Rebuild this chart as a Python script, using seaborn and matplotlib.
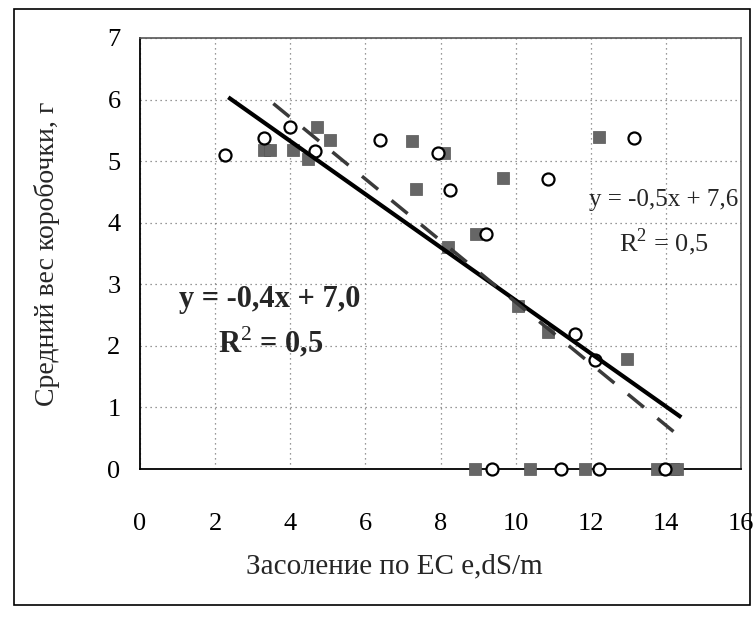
import matplotlib
matplotlib.use("Agg")
import matplotlib.pyplot as plt
import seaborn as sns
import pandas as pd
import numpy as np
from matplotlib.patches import Rectangle

# ---- data ----
circle_x = [2.26, 3.30, 3.99, 4.65, 6.40, 7.93, 8.24, 9.22, 10.86, 11.59, 12.10, 13.16,
            9.36, 11.22, 12.23, 13.99]
circle_y = [5.10, 5.37, 5.56, 5.17, 5.34, 5.14, 4.53, 3.81, 4.71, 2.20, 1.77, 5.38,
            0.0, 0.0, 0.0, 0.0]

square_x = [3.30, 3.45, 4.08, 4.48, 4.72, 5.07, 7.25, 8.09, 7.34, 8.20, 8.95, 9.66,
            10.05, 10.86, 12.23, 12.96, 8.92, 10.38, 11.86, 13.77, 14.20, 14.30]
square_y = [5.18, 5.18, 5.18, 5.04, 5.56, 5.35, 5.33, 5.14, 4.54, 3.60, 3.81, 4.72,
            2.65, 2.23, 5.39, 1.78, 0.0, 0.0, 0.0, 0.0, 0.0, 0.0]

# trend lines (slope, intercept, x-range) as drawn in the reference
solid_slope, solid_intercept = -0.431, 7.05
solid_xrange = [2.35, 14.41]
dashed_slope, dashed_intercept = -0.50, 7.71
dashed_xrange = [3.55, 14.26]

x_ticks = [0, 2, 4, 6, 8, 10, 12, 14, 16]
y_ticks = [0, 1, 2, 3, 4, 5, 6, 7]

x_label = "Засоление по EC e,dS/m"
y_label = "Средний вес коробочки, г"
eq_bold = "y = -0,4x + 7,0"
r2_bold = "R$^2$ = 0,5"
eq_reg = "y = -0,5x + 7,6"
r2_reg = "R$^2$ = 0,5"

# ---- styling ----
sns.set_style("white")
plt.rcParams["font.family"] = ["Liberation Serif", "DejaVu Serif"]
plt.rcParams["mathtext.fontset"] = "custom"
plt.rcParams["mathtext.rm"] = "Liberation Serif"
plt.rcParams["mathtext.bf"] = "Liberation Serif:bold"

fig = plt.figure(figsize=(7.56, 6.24), dpi=100)
ax = fig.add_axes([140 / 756, (624 - 469) / 624, (741 - 140) / 756, (469 - 38) / 624])

circles = pd.DataFrame({"x": circle_x, "y": circle_y})
squares = pd.DataFrame({"x": square_x, "y": square_y})

sns.scatterplot(data=squares, x="x", y="y", marker="s", s=70, color="#666666",
                edgecolor="#555555", linewidth=0.5, ax=ax, clip_on=False, zorder=3)
sns.scatterplot(data=circles, x="x", y="y", marker="o", s=75, facecolor="white",
                edgecolor="black", linewidth=1.6, ax=ax, clip_on=False, zorder=4)

sx = np.array(solid_xrange)
ax.plot(sx, solid_slope * sx + solid_intercept, color="black", lw=3.0, zorder=5,
        solid_capstyle="butt")
dx = np.array(dashed_xrange)
ax.plot(dx, dashed_slope * dx + dashed_intercept, color="#3a3a3a", lw=2.5,
        dashes=(6, 5), zorder=5)

ax.set_xlim(0, 16)
ax.set_ylim(0, 7)
ax.set_xticks(x_ticks)
ax.set_yticks(y_ticks)
ax.tick_params(axis="both", labelsize=19, direction="out", length=6, width=1,
               colors="black")
ax.tick_params(axis="x", pad=26)
ax.tick_params(axis="y", pad=8)
ax.grid(True, color="#777777", linestyle=(0, (1, 3)), linewidth=0.9)
ax.set_axisbelow(True)

for side in ["left", "bottom"]:
    ax.spines[side].set_color("black")
    ax.spines[side].set_linewidth(1.3)
for side in ["top", "right"]:
    ax.spines[side].set_color("#555555")
    ax.spines[side].set_linestyle((0, (1, 1)))
    ax.spines[side].set_linewidth(1.2)

ax.set_xlabel(x_label, fontsize=21)
ax.xaxis.set_label_coords(0.423, -0.195)
ax.set_ylabel(y_label, fontsize=20, labelpad=34)

ax.text(3.46, 2.76, eq_bold, fontsize=22, fontweight="bold", ha="center", va="center",
        zorder=6)
ax.text(3.48, 2.06, r2_bold, fontsize=22, fontweight="bold", ha="center", va="center",
        zorder=6)
ax.text(13.95, 4.37, eq_reg, fontsize=18, ha="center", va="center", zorder=6,
        clip_on=False)
ax.text(13.95, 3.69, r2_reg, fontsize=19, ha="center", va="center", zorder=6)

fig.patches.append(Rectangle((14 / 756, 1 - 605 / 624), (750 - 14) / 756, (605 - 9) / 624,
                             transform=fig.transFigure, fill=False, edgecolor="black",
                             linewidth=1.2))

fig.savefig("out.png", dpi=100)
